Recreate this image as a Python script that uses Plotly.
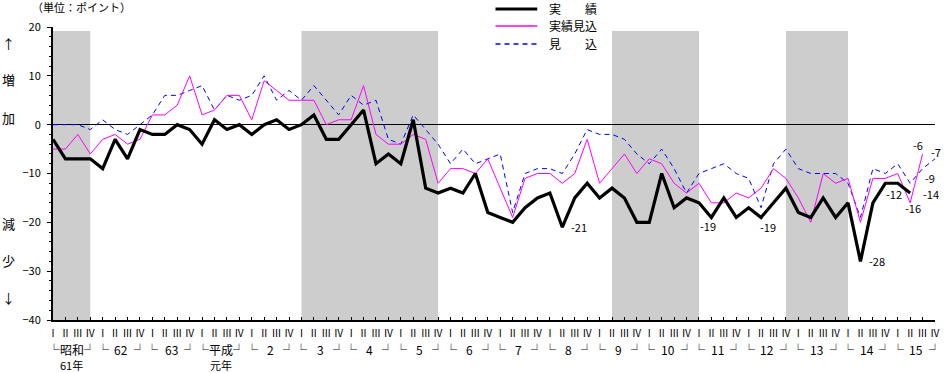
import plotly.graph_objects as go

# ---- data (quarterly, 昭和61年Ⅰ期 〜 平成15年Ⅳ期) ----
quarters = ["Ⅰ", "Ⅱ", "Ⅲ", "Ⅳ"]
years = ["昭和", "62", "63", "平成", "2", "3", "4", "5", "6", "7",
         "8", "9", "10", "11", "12", "13", "14", "15"]
year_sub = {"昭和": "61年", "平成": "元年"}

jisseki = [-3, -7, -7, -7, -9, -3, -7, -1, -2, -2, 0, -1, -4, 1, -1, 0,
           -2, 0, 1, -1, 0, 2, -3, -3, 0, 3, -8, -6, -8, 1, -13, -14,
           -13, -14, -10, -18, -19, -20, -17, -15, -14, -21, -15, -12, -15, -13,
           -15, -20, -20, -10, -17, -15, -16, -19, -15, -19, -17, -19, -16, -13,
           -18, -19, -15, -19, -16, -28, -16, -12, -12, -14]
jisseki_mikomi = [-5, -5, -2, -6, -3, -2, -4, -3, 2, 2, 4, 10, 2, 3, 6, 6,
                  1, 9, 7, 5, 5, 5, 0, 1, 1, 8, -2, -4, -4, -2, -3, -12,
                  -9, -9, -10, -7, -13, -19, -11, -10, -10, -12, -10, -3, -12, -9,
                  -6, -10, -7, -8, -12, -14, -12, -16, -16, -14, -15, -13, -9, -11,
                  -15, -20, -10, -12, -11, -20, -11, -11, -10, -16, -6]
mikomi = [0, 0, 0, -1, 1, -1, -2, 0, 2, 6, 6, 7, 8, 3, 6, 5,
          6, 10, 5, 7, 5, 8, 5, 2, 6, 4, 5, -3, -4, 2, -1, -4,
          -8, -5, -8, -7, -6, -18, -10, -9, -9, -10, -6, -1, -2, -2,
          -3, -6, -8, -5, -9, -14, -10, -9, -8, -10, -11, -17, -8, -5,
          -9, -10, -10, -10, -12, -19, -9, -10, -8, -12, -9, -7]

# recession periods (quarter index start, end)
recessions = [(0, 3), (20, 31), (45, 52), (59, 64)]

# labelled points: (series, quarter index, x shift px, y shift px)
labels = [("jisseki", 41, 17, 0), ("jisseki", 53, -3, -9), ("jisseki", 57, 7, -10),
          ("jisseki", 65, 17, 0), ("jisseki", 68, -4, -11), ("jisseki", 69, 21, -1),
          ("jisseki_mikomi", 69, 3, -5), ("jisseki_mikomi", 70, -5, 9),
          ("mikomi", 70, 7, -9), ("mikomi", 71, 1, 7)]

series = {"jisseki": jisseki, "jisseki_mikomi": jisseki_mikomi, "mikomi": mikomi}

FONT = "Noto Sans CJK JP"
n_q = len(years) * len(quarters)

fig = go.Figure()

fig.add_trace(go.Scatter(x=list(range(len(mikomi))), y=mikomi, mode="lines",
                         name="見　　込", line=dict(color="#0000ff", width=1, dash="5px,4px")))
fig.add_trace(go.Scatter(x=list(range(len(jisseki_mikomi))), y=jisseki_mikomi, mode="lines",
                         name="実績見込", line=dict(color="#ff00ff", width=1)))
fig.add_trace(go.Scatter(x=list(range(len(jisseki))), y=jisseki, mode="lines",
                         name="実　　績", line=dict(color="#000000", width=3.2)))

shapes = []
for s, e in recessions:
    shapes.append(dict(type="rect", xref="x", yref="y", x0=s, x1=e, y0=-40, y1=19.2,
                       fillcolor="#cdcdcd", line=dict(width=0), layer="below"))

# manual legend (top centre)
PLOT_L, PLOT_W, PLOT_B, PLOT_H = 53, 887, 320, 293
def px(xp):
    return (xp - PLOT_L) / PLOT_W
def py(yp):
    return (PLOT_B - yp) / PLOT_H

legend_items = [("実　　績", "#000000", 3, "solid", 9),
                ("実績見込", "#ff00ff", 1.3, "solid", 26),
                ("見　　込", "#0000ff", 1.3, "5px,4px", 44)]
annotations = []
for name, col, w, dash, ypix in legend_items:
    shapes.append(dict(type="line", xref="paper", yref="paper", x0=px(498), x1=px(540),
                       y0=py(ypix), y1=py(ypix), line=dict(color=col, width=w, dash=dash)))
    annotations.append(dict(xref="paper", yref="paper", x=px(550), y=py(ypix), text=name,
                            showarrow=False, xanchor="left", yanchor="middle",
                            font=dict(size=12, color="#000")))

# unit title
annotations.append(dict(xref="paper", yref="paper", x=px(30), y=py(7), text="（単位：ポイント）",
                        showarrow=False, xanchor="left", yanchor="middle",
                        font=dict(size=11, color="#000")))

# side labels
for t, ypix in [("↑", 43), ("増", 79), ("加", 117), ("減", 223), ("少", 260), ("↓", 297)]:
    annotations.append(dict(xref="paper", yref="paper", x=px(8), y=py(ypix), text=t,
                            showarrow=False, xanchor="center", yanchor="middle",
                            font=dict(size=13, color="#000")))

# year labels under quarters
for k, yname in enumerate(years):
    q0 = k * 4
    if yname in year_sub:
        annotations.append(dict(xref="x", yref="paper", x=q0 + 1.5, y=0, yshift=-29,
                                text="└" + yname + "┘", showarrow=False,
                                xanchor="center", yanchor="middle", font=dict(size=12, color="#000")))
        annotations.append(dict(xref="x", yref="paper", x=q0 + 1.5, y=0, yshift=-45,
                                text=year_sub[yname], showarrow=False,
                                xanchor="center", yanchor="middle", font=dict(size=11, color="#000")))
    else:
        for xx, t in [(q0, "└"), (q0 + 1.5, yname), (q0 + 3, "┘")]:
            annotations.append(dict(xref="x", yref="paper", x=xx, y=0, yshift=-29, text=t,
                                    showarrow=False, xanchor="center", yanchor="middle",
                                    font=dict(size=12, color="#000")))

# value labels
for sname, idx, dx, dy in labels:
    v = series[sname][idx]
    annotations.append(dict(xref="x", yref="y", x=idx, y=v, text=str(v), showarrow=False,
                            xshift=dx, yshift=dy, xanchor="center", yanchor="middle",
                            font=dict(size=11, color="#000")))

fig.update_layout(
    width=947, height=373,
    margin=dict(l=PLOT_L, r=947 - PLOT_L - PLOT_W, t=27, b=373 - PLOT_B),
    paper_bgcolor="white", plot_bgcolor="white",
    font=dict(family=FONT, color="#000"),
    showlegend=False,
    shapes=shapes, annotations=annotations,
    xaxis=dict(range=[0, n_q - 1], tickmode="array", tickvals=list(range(n_q)),
               ticktext=quarters * len(years), ticks="inside", ticklen=3, tickcolor="#000",
               showline=True, linecolor="#000", linewidth=2, showgrid=False, zeroline=False,
               tickfont=dict(size=10, color="#000"), tickangle=0, ticklabelstandoff=3),
    yaxis=dict(range=[-40, 20], tickvals=[-40, -30, -20, -10, 0, 10, 20], ticks="outside",
               ticklen=4, tickcolor="#000", showline=True, linecolor="#000", linewidth=2,
               showgrid=False, zeroline=True, zerolinecolor="#000", zerolinewidth=1,
               tickfont=dict(size=11, color="#000"), ticklabelstandoff=4,
               minor=dict(dtick=2, ticks="outside", ticklen=2, tickcolor="#000")),
)

fig.write_html("out.html", config={"displayModeBar": False},
               post_script="document.body.style.margin='0';document.body.style.overflow='hidden';")
